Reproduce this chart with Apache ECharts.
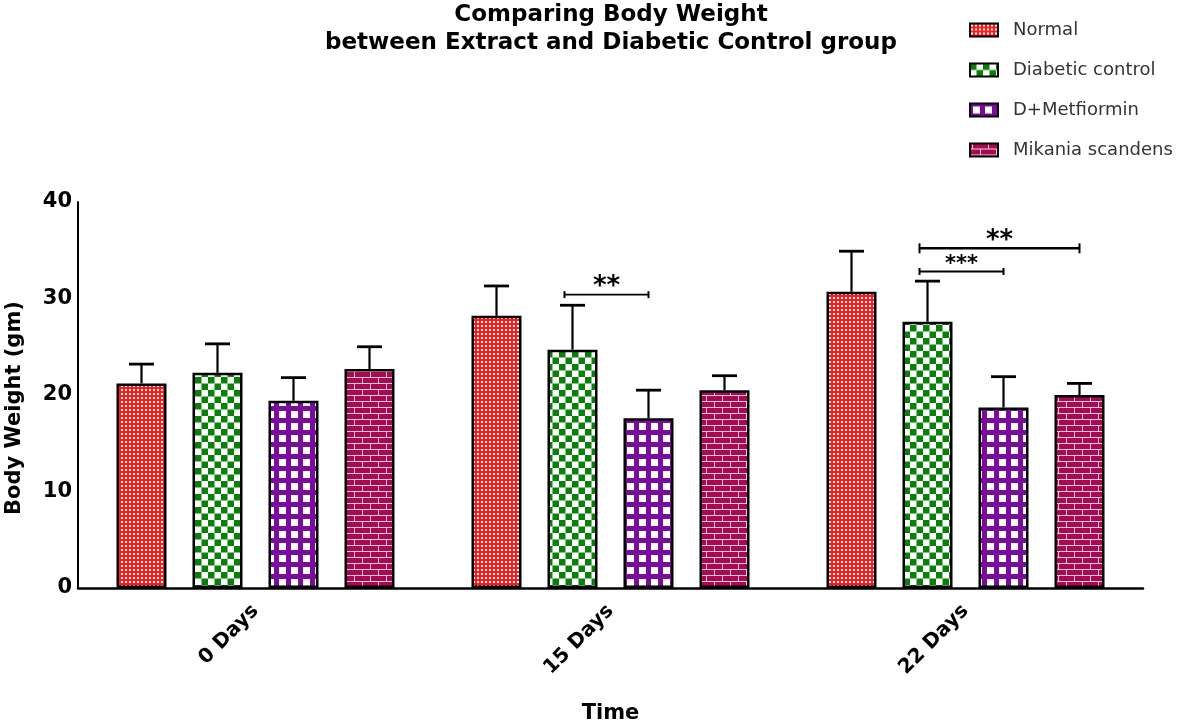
<!DOCTYPE html>
<html><head><meta charset="utf-8">
<script src="https://cdn.jsdelivr.net/npm/echarts@6/dist/echarts.min.js"></script>
<style>html,body{margin:0;padding:0;background:#fff}#c{width:1182px;height:724px}</style>
</head><body><div id="c"></div>
<script>
const categories = ['0 Days', '15 Days', '22 Days'];
const seriesNames = ['Normal', 'Diabetic control', 'D+Metfiormin', 'Mikania scandens'];
const normalMean = [21.2, 28.2, 30.7];
const normalSD = [2.0, 3.1, 4.2];
const diabeticMean = [22.3, 24.7, 27.6];
const diabeticSD = [3.0, 4.6, 4.2];
const metforminMean = [19.4, 17.6, 18.7];
const metforminSD = [2.4, 2.9, 3.2];
const mikaniaMean = [22.7, 20.5, 20.0];
const mikaniaSD = [2.3, 1.5, 1.2];
const yTicks = [0, 10, 20, 30, 40];
// significance brackets: [categoryIndex, fromSeries, toSeries, yValue, label]
const brackets = [
  [1, 1, 2, 30.4, '**'],
  [2, 1, 2, 32.8, '***'],
  [2, 1, 3, 35.2, '**']
];

const means = [normalMean, diabeticMean, metforminMean, mikaniaMean];
const sds = [normalSD, diabeticSD, metforminSD, mikaniaSD];

function makePattern(kind) {
  const c = document.createElement('canvas');
  const g = c.getContext('2d');
  if (kind === 0) {
    c.width = 4; c.height = 4;
    g.fillStyle = '#ff1a1a'; g.fillRect(0, 0, 4, 4);
    g.fillStyle = '#ffffff'; g.fillRect(1, 1, 2, 2);
  } else if (kind === 1) {
    c.width = 13; c.height = 13;
    g.fillStyle = '#ffffff'; g.fillRect(0, 0, 13, 13);
    g.fillStyle = '#0a800a'; g.fillRect(0, 0, 6.5, 6.5); g.fillRect(6.5, 6.5, 6.5, 6.5);
  } else if (kind === 2) {
    c.width = 12; c.height = 12;
    g.fillStyle = '#7a0c9c'; g.fillRect(0, 0, 12, 12);
    g.fillStyle = '#ffffff'; g.fillRect(3, 3, 7, 7);
  } else {
    c.width = 16; c.height = 12;
    g.fillStyle = '#a80a52'; g.fillRect(0, 0, 16, 12);
    g.fillStyle = '#f4c8da';
    g.fillRect(0, 5, 16, 1); g.fillRect(0, 11, 16, 1);
    g.fillRect(2, 0, 1, 5); g.fillRect(10, 6, 1, 5);
  }
  return { image: c, repeat: 'repeat' };
}

const BAR_W = 50, BAR_GAP = 26;
const STEP = BAR_W + BAR_GAP;
const FONT = 'DejaVu Sans, Liberation Sans, Arial, sans-serif';

const series = [];
seriesNames.forEach((name, i) => {
  series.push({
    name, type: 'bar', barWidth: BAR_W, barGap: (BAR_GAP / BAR_W * 100) + '%',
    data: means[i],
    itemStyle: { color: makePattern(i), borderColor: '#000', borderWidth: 2.5 },
    z: 2
  });
});
seriesNames.forEach((name, i) => {
  series.push({
    type: 'custom', name: 'err' + i, z: 3,
    data: categories.map((c, k) => [k, means[i][k], sds[i][k]]),
    renderItem: function (params, api) {
      const k = api.value(0), m = api.value(1), s = api.value(2);
      const off = (i - 1.5) * STEP;
      const b = api.coord([k, m]);
      const t = api.coord([k, m + s]);
      const x = b[0] + off;
      return { type: 'group', children: [
        { type: 'line', shape: { x1: x, y1: b[1], x2: x, y2: t[1] }, style: { stroke: '#000', lineWidth: 2.2 } },
        { type: 'line', shape: { x1: x - 12.5, y1: t[1], x2: x + 12.5, y2: t[1] }, style: { stroke: '#000', lineWidth: 2.8 } }
      ]};
    }
  });
});
series.push({
  type: 'custom', name: 'sig', z: 4,
  data: brackets,
  renderItem: function (params, api) {
    const k = api.value(0), a = api.value(1), b = api.value(2), y = api.value(3);
    const label = brackets[params.dataIndex][4];
    const p = api.coord([k, y]);
    const x1 = p[0] + (a - 1.5) * STEP - 8;
    const x2 = p[0] + (b - 1.5) * STEP;
    const big = label.length === 2;
    const h = big && b === 3 ? 5 : 3.5;
    return { type: 'group', children: [
      { type: 'line', shape: { x1: x1, y1: p[1], x2: x2, y2: p[1] }, style: { stroke: '#000', lineWidth: big && b === 3 ? 2.5 : 1.8 } },
      { type: 'line', shape: { x1: x1, y1: p[1] - h, x2: x1, y2: p[1] + h }, style: { stroke: '#000', lineWidth: 2 } },
      { type: 'line', shape: { x1: x2, y1: p[1] - h, x2: x2, y2: p[1] + h }, style: { stroke: '#000', lineWidth: 2 } },
      { type: 'text', style: { text: label, x: (x1 + x2) / 2, y: p[1] + (big ? 6 : 4), align: 'center', verticalAlign: 'bottom',
        font: 'bold ' + (big ? 26 : 21) + 'px ' + FONT, fill: '#000' } }
    ]};
  }
});

const chart = echarts.init(document.getElementById('c'), null, { renderer: 'canvas' });
chart.setOption({
  animation: false,
  backgroundColor: '#fff',
  title: {
    text: 'Comparing Body Weight\nbetween Extract and Diabetic Control group',
    left: 606, top: -4, textAlign: 'center',
    textStyle: { fontFamily: FONT, fontWeight: 'bold', fontSize: 23, lineHeight: 28, color: '#000' }
  },
  legend: {
    data: seriesNames, orient: 'vertical', left: 964, top: 16,
    icon: 'rect', itemWidth: 28, itemHeight: 13, itemGap: 22,
    textStyle: { fontFamily: FONT, fontSize: 18, color: '#333', padding: [0, 0, 0, 10] }
  },
  grid: { left: 78, right: 39, top: 202, bottom: 136, containLabel: false, outerBoundsMode: 'none' },
  xAxis: {
    type: 'category', data: categories,
    name: 'Time', nameLocation: 'middle', nameGap: 115,
    nameTextStyle: { fontFamily: FONT, fontWeight: 'bold', fontSize: 21, color: '#000' },
    axisLine: { lineStyle: { color: '#000', width: 2.5 } },
    axisTick: { alignWithLabel: true, length: 6, lineStyle: { color: '#000', width: 1.5 } },
    axisLabel: { rotate: 45, margin: 20, fontFamily: FONT, fontWeight: 'bold', fontSize: 20, color: '#000' }
  },
  yAxis: {
    type: 'value', min: yTicks[0], max: yTicks[yTicks.length - 1], interval: 10,
    name: 'Body Weight (gm)', nameLocation: 'middle', nameGap: 53, nameRotate: 90,
    nameTextStyle: { fontFamily: FONT, fontWeight: 'bold', fontSize: 21, color: '#000', padding: [0, 26, 0, 0] },
    axisLine: { show: true, lineStyle: { color: '#000', width: 2 } },
    axisTick: { show: false },
    splitLine: { show: false },
    axisLabel: { margin: 6, fontFamily: FONT, fontWeight: 'bold', fontSize: 21, color: '#000' }
  },
  series
});
</script></body></html>
